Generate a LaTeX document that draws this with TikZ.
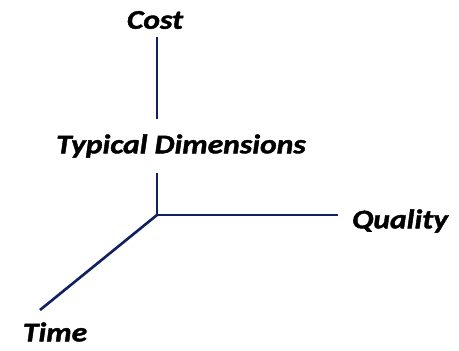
\documentclass[tikz,border=0pt]{standalone}
\usepackage{fontspec}
\setmainfont{Carlito}
% wider, heavier bold italic for the axis labels
\newfontfamily\lblfont{Carlito}[BoldItalicFeatures={FakeStretch=1.17,FakeBold=1.5}]
\begin{document}
\begin{tikzpicture}[x=1pt,y=-1pt,
  axis/.style={line width=2.6pt, draw={rgb,255:red,16;green,32;blue,96}},
  axisshadow/.style={line width=2.6pt, draw=black!12},
  lbl/.style={font=\lblfont\fontsize{27}{30}\selectfont\bfseries\itshape, inner sep=0pt}]
  \useasboundingbox (0,0) rectangle (459,351);
  % origin and free ends of the axes
  \coordinate (o) at (157,215);
  \coordinate (up1) at (157,37);
  \coordinate (up2) at (157,119);
  \coordinate (lo1) at (157,173);
  \coordinate (qend) at (338,215);
  \coordinate (tend) at (40,310);
  % labels
  \node[lbl] (cost) at (155,20) {Cost};
  \node[lbl] (dims) at (181,146) {Typical Dimensions};
  \node[lbl] (qual) at (400,221) {Quality};
  \node[lbl] (time) at (55,332) {Time};
  % soft shadows under the axes
  \begin{scope}[shift={(1.5,2)}]
    \draw[axisshadow] (up1) -- (up2);
    \draw[axisshadow] (lo1) -- (o) -- (qend);
    \draw[axisshadow] (o) -- (tend);
  \end{scope}
  % axes
  \draw[axis] (up1) -- (up2);
  \draw[axis] (lo1) -- (o) -- (qend);
  \draw[axis] (o) -- (tend);
\end{tikzpicture}
\end{document}
